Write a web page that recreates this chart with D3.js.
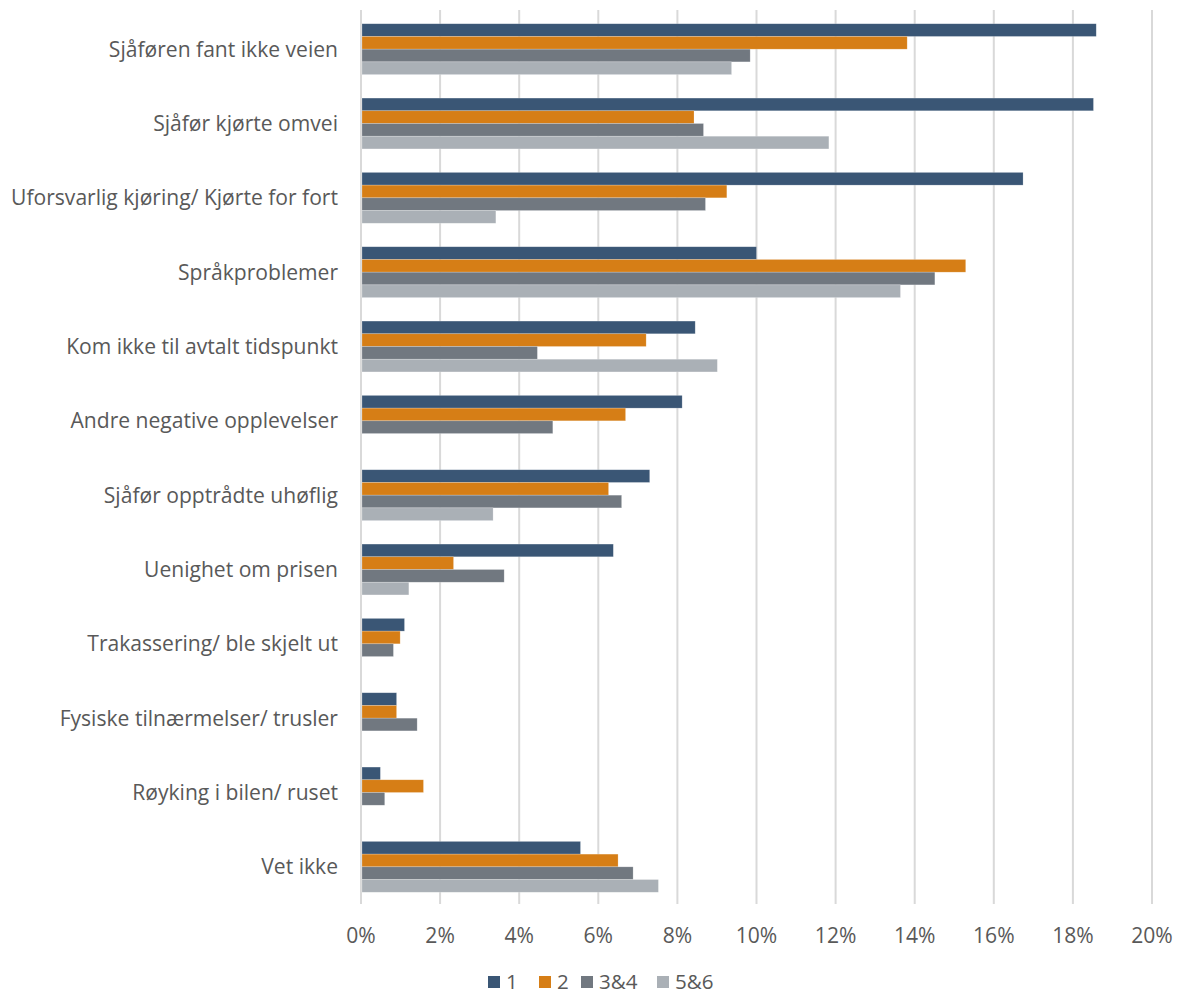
<!DOCTYPE html>
<html><head><meta charset="utf-8">
<script src="https://cdn.jsdelivr.net/npm/d3@7"></script>
<style>body{margin:0;background:#fff}svg{display:block}text{font-family:"Open Sans",sans-serif;fill:#595959}</style>
</head><body><svg id="c" width="1181" height="996"></svg>
<script>
const categories = ["Sjåføren fant ikke veien","Sjåfør kjørte omvei","Uforsvarlig kjøring/ Kjørte for fort","Språkproblemer","Kom ikke til avtalt tidspunkt","Andre negative opplevelser","Sjåfør opptrådte uhøflig","Uenighet om prisen","Trakassering/ ble skjelt ut","Fysiske tilnærmelser/ trusler","Røyking i bilen/ ruset","Vet ikke"];
const seriesNames = ["1","2","3&4","5&6"];
const s1 = [18.59,18.52,16.74,10.00,8.45,8.12,7.30,6.38,1.10,0.90,0.49,5.55];
const s2 = [13.81,8.42,9.25,15.29,7.21,6.69,6.26,2.34,0.99,0.90,1.58,6.50];
const s34 = [9.84,8.66,8.71,14.51,4.46,4.85,6.59,3.62,0.82,1.42,0.60,6.88];
const s56 = [9.37,11.83,3.41,13.64,9.01,0,3.34,1.21,0,0,0,7.52];
const ticks = [0,2,4,6,8,10,12,14,16,18,20];
const colors = ["#3a5675","#d67e16","#717880","#aab0b6"];
const seriesVals = [s1,s2,s34,s56];

const svg = d3.select("#c");
const x = d3.scaleLinear().domain([0,20]).range([361,1152]);
const y = d3.scaleBand().domain(categories).range([12,904]).paddingInner(0.316).paddingOuter(0.158);
const yi = d3.scaleBand().domain(seriesNames).range([0,y.bandwidth()]);

// gridlines
svg.append("g").selectAll("line").data(ticks).join("line")
  .attr("x1",d=>x(d)).attr("x2",d=>x(d)).attr("y1",10).attr("y2",904)
  .attr("stroke","#d9d9d9").attr("stroke-width",2);

// bars
const g = svg.append("g");
seriesNames.forEach((s,si)=>{
  g.append("g").selectAll("rect").data(categories.map((c,i)=>({c,v:seriesVals[si][i]})).filter(d=>d.v>0)).join("rect")
    .attr("x",x(0)+1).attr("y",d=>y(d.c)+yi(s))
    .attr("width",d=>x(d.v)-x(0)-1).attr("height",yi.bandwidth())
    .attr("fill",colors[si]).attr("stroke","#ffffff").attr("stroke-opacity",0.35).attr("stroke-width",0.6);
});

// category labels
const lab = svg.append("g").selectAll("text").data(categories).join("text")
  .attr("x",338).attr("y",d=>y(d)+y.bandwidth()/2).attr("dy","0.35em")
  .attr("text-anchor","end").style("font-size","18px").text(d=>d);
let maxW = 0; lab.each(function(){maxW=Math.max(maxW,this.getComputedTextLength());});
const fs = 18*327/maxW;
lab.style("font-size",fs+"px");

// x tick labels
svg.append("g").selectAll("text").data(ticks).join("text")
  .attr("x",d=>x(d)).attr("y",936).attr("dy","0.35em").attr("text-anchor","middle")
  .style("font-size",fs+"px").text(d=>d+"%");

// legend
const legX = [488,539,581,657];
const lg = svg.append("g");
seriesNames.forEach((s,i)=>{
  lg.append("rect").attr("x",legX[i]).attr("y",976).attr("width",12).attr("height",12).attr("fill",colors[i]);
  lg.append("text").attr("x",legX[i]+18).attr("y",982).attr("dy","0.35em").style("font-size",(fs-0.5)+"px").text(s);
});
</script></body></html>
